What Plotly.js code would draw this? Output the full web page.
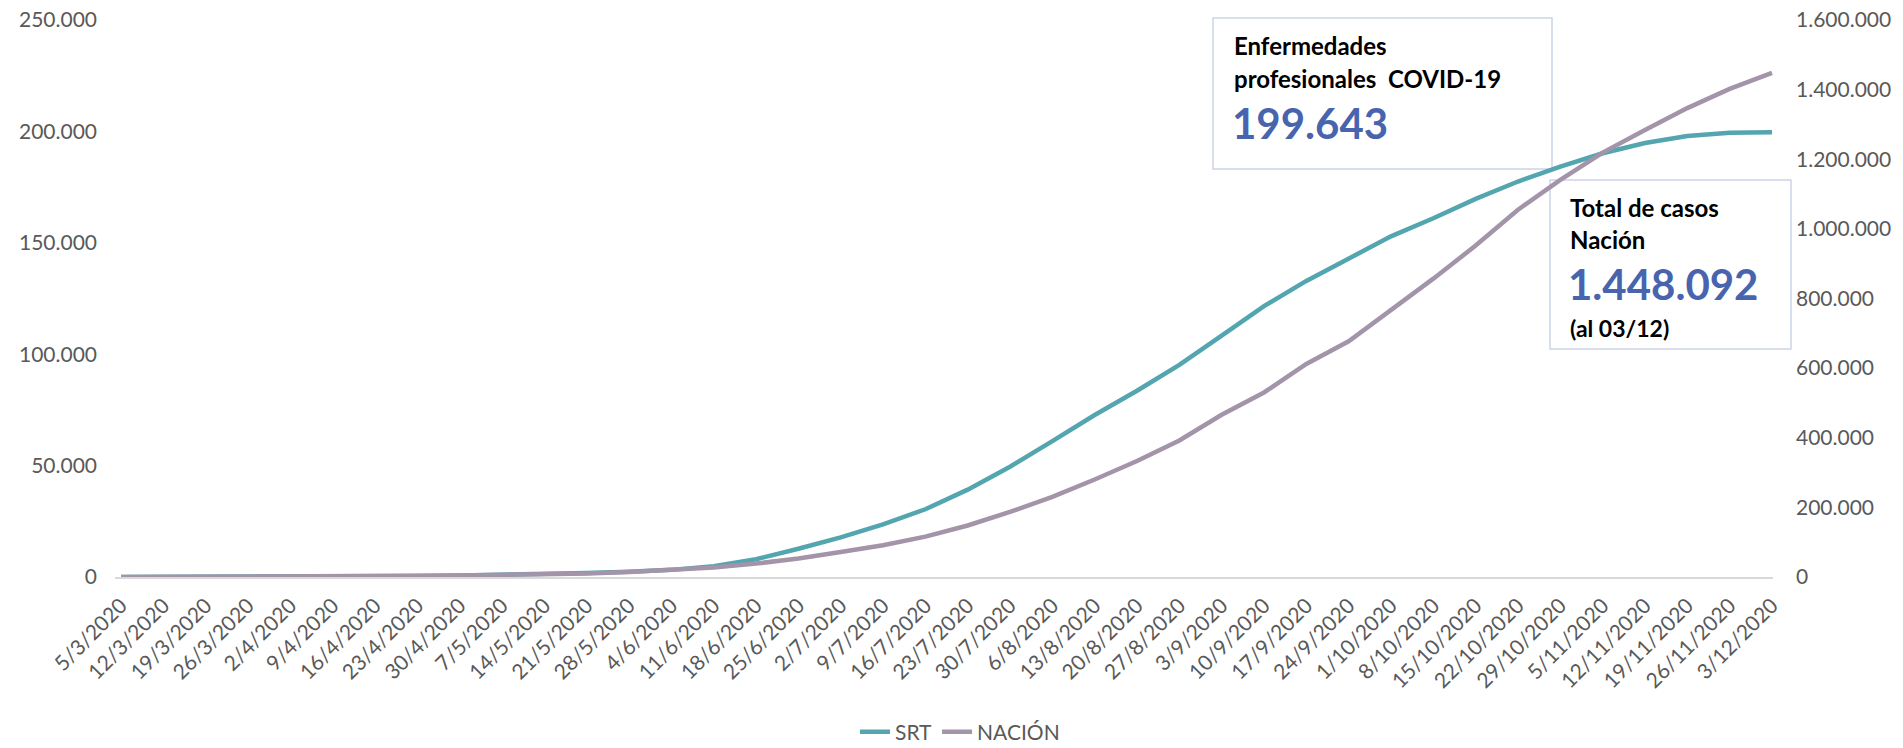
<!DOCTYPE html>
<html>
<head>
<meta charset="utf-8">
<script src="https://cdn.plot.ly/plotly-3.0.1.min.js"></script>
<style>
  html, body { margin: 0; padding: 0; background: #ffffff; }
  #chart { width: 1903px; height: 748px; }
</style>
</head>
<body>
<div id="chart"></div>
<script>
// Weekly dates (x)
const dates = [
  "2020-03-05","2020-03-12","2020-03-19","2020-03-26","2020-04-02","2020-04-09","2020-04-16","2020-04-23",
  "2020-04-30","2020-05-07","2020-05-14","2020-05-21","2020-05-28","2020-06-04","2020-06-11","2020-06-18",
  "2020-06-25","2020-07-02","2020-07-09","2020-07-16","2020-07-23","2020-07-30","2020-08-06","2020-08-13",
  "2020-08-20","2020-08-27","2020-09-03","2020-09-10","2020-09-17","2020-09-24","2020-10-01","2020-10-08",
  "2020-10-15","2020-10-22","2020-10-29","2020-11-05","2020-11-12","2020-11-19","2020-11-26","2020-12-03"
];
const tickLabels = [
  "5/3/2020","12/3/2020","19/3/2020","26/3/2020","2/4/2020","9/4/2020","16/4/2020","23/4/2020",
  "30/4/2020","7/5/2020","14/5/2020","21/5/2020","28/5/2020","4/6/2020","11/6/2020","18/6/2020",
  "25/6/2020","2/7/2020","9/7/2020","16/7/2020","23/7/2020","30/7/2020","6/8/2020","13/8/2020",
  "20/8/2020","27/8/2020","3/9/2020","10/9/2020","17/9/2020","24/9/2020","1/10/2020","8/10/2020",
  "15/10/2020","22/10/2020","29/10/2020","5/11/2020","12/11/2020","19/11/2020","26/11/2020","3/12/2020"
];
// SRT - enfermedades profesionales COVID-19 (left axis)
const srt = [
  0, 0, 0, 20, 80, 170, 300, 450,
  650, 900, 1300, 1800, 2400, 3200, 4800, 8000,
  12700, 17800, 23600, 30400, 39200, 49500, 61000, 72700,
  83600, 95200, 108300, 121600, 132900, 143000, 152900, 161000,
  169700, 177500, 184200, 190200, 194800, 197900, 199400, 199643
];
// NACIÓN - total de casos (right axis)
const nacion = [
  2, 30, 130, 500, 1100, 1800, 2400, 3300,
  4400, 5600, 7100, 9900, 14700, 20200, 27000, 38500,
  53000, 72000, 91000, 116000, 148000, 187000, 230000, 280000,
  333000, 392000, 466000, 530000, 612000, 677000, 765000, 857000,
  952000, 1055000, 1141000, 1219000, 1284000, 1347000, 1402000, 1448092
];
const leftTicks = [0, 50000, 100000, 150000, 200000, 250000];
const rightTicks = [0, 200000, 400000, 600000, 800000, 1000000, 1200000, 1400000, 1600000];

const FONT = "Lato, 'Open Sans', sans-serif";
const GRAY = "#595959";
const BLUE = "#4964AE";

const traces = [
  { x: dates, y: srt, name: "SRT", type: "scatter", mode: "lines", yaxis: "y",
    line: { color: "#53A5B0", width: 4.5 } },
  { x: dates, y: nacion, name: "NACIÓN", type: "scatter", mode: "lines", yaxis: "y2",
    line: { color: "#A394A9", width: 4.5 } }
];

// pixel helpers for annotation placement (plot area 115..1773 x, 20..577 y)
const L = 115, R = 1773, T = 20, B = 577;
const px = v => (v - L) / (R - L);
const py = v => (B - v) / (B - T);

function txt(text, x, y, size, color) {
  return { text: text, xref: "paper", yref: "paper", x: px(x), y: py(y),
    xanchor: "left", yanchor: "middle", showarrow: false,
    font: { family: FONT, size: size, color: color, weight: 700 } };
}

const layout = {
  width: 1903, height: 748,
  margin: { l: L, r: 1903 - R, t: T, b: 748 - B, autoexpand: false },
  paper_bgcolor: "#ffffff", plot_bgcolor: "#ffffff",
  separators: ",.",
  font: { family: FONT, color: GRAY, size: 21 },
  showlegend: true,
  legend: { orientation: "h", x: px(960), y: py(732), xanchor: "center", yanchor: "middle",
    font: { family: FONT, size: 21, color: GRAY }, itemwidth: 30 },
  xaxis: {
    type: "date", range: ["2020-03-04", "2020-12-03 04:00"],
    tickvals: dates, ticktext: tickLabels, tickangle: -45,
    ticks: "", showgrid: false, zeroline: false,
    showline: true, linecolor: "#D9D9D9", linewidth: 2, layer: "below traces",
    tickfont: { family: FONT, size: 21, color: GRAY }, ticklabelstandoff: 6
  },
  yaxis: {
    range: [0, 250000], tickvals: leftTicks, tickformat: ",d",
    showgrid: false, zeroline: false, ticks: "", showline: false,
    tickfont: { family: FONT, size: 21, color: GRAY }, ticklabelstandoff: 17
  },
  yaxis2: {
    range: [0, 1600000], tickvals: rightTicks, tickformat: ",d",
    overlaying: "y", side: "right",
    showgrid: false, zeroline: false, ticks: "", showline: false,
    tickfont: { family: FONT, size: 21, color: GRAY }, ticklabelstandoff: 22
  },
  shapes: [
    { type: "rect", xref: "paper", yref: "paper", x0: px(1213), x1: px(1552), y0: py(169), y1: py(18),
      line: { color: "#CDD4EA", width: 1.5 }, fillcolor: "rgba(255,255,255,1)", layer: "below" },
    { type: "rect", xref: "paper", yref: "paper", x0: px(1550), x1: px(1791), y0: py(349), y1: py(180),
      line: { color: "#CDD4EA", width: 1.5 }, fillcolor: "rgba(255,255,255,1)", layer: "below" }
  ],
  annotations: [
    txt("Enfermedades", 1232, 45, 24, "#000000"),
    txt("profesionales&nbsp; COVID-19", 1232, 78, 24, "#000000"),
    txt("199.643", 1230, 123, 42, BLUE),
    txt("Total de casos", 1568, 207, 24, "#000000"),
    txt("Nación", 1568, 239, 24, "#000000"),
    txt("1.448.092", 1566, 284, 42, BLUE),
    txt("(al 03/12)", 1568, 328, 23, "#000000")
  ]
};

Plotly.newPlot("chart", traces, layout, { displayModeBar: false, staticPlot: true });
</script>
</body>
</html>
